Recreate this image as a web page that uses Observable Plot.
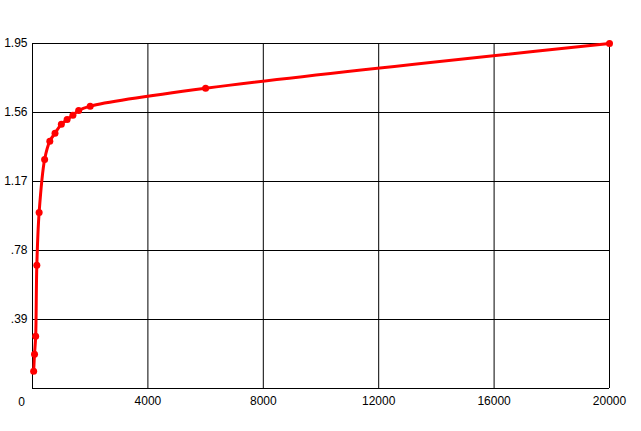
<!DOCTYPE html>
<html><head><meta charset="utf-8">
<script src="https://cdn.jsdelivr.net/npm/d3@7"></script>
<script src="https://cdn.jsdelivr.net/npm/@observablehq/plot@0.6"></script>
<style>body{margin:0;background:#fff;} svg{display:block;}</style>
</head><body><div id="chart"></div>
<script>
const xValues = [40, 70, 110, 150, 230, 420, 600, 780, 1000, 1200, 1400, 1600, 2000, 6000, 20000];
const yValues = [0.098, 0.194, 0.296, 0.697, 0.995, 1.294, 1.398, 1.443, 1.494, 1.520, 1.545, 1.571, 1.596, 1.697, 1.95];
const xTicks = [0, 4000, 8000, 12000, 16000, 20000];
const yTicks = [0.39, 0.78, 1.17, 1.56, 1.95];
const yTickLabels = [".39", ".78", "1.17", "1.56", "1.95"];
const originLabel = "0";

const data = xValues.map((x, i) => ({x, y: yValues[i]}));

const chart = Plot.plot({
  width: 641, height: 431,
  marginLeft: 32, marginRight: 32, marginTop: 43, marginBottom: 43,
  style: {fontFamily: "Liberation Sans, Arial, sans-serif", fontSize: "12px", background: "#fff", color: "#000"},
  x: {domain: [0, 20000]},
  y: {domain: [0, 1.95]},
  marks: [
    Plot.gridX(xTicks.slice(1), {stroke: "#000", strokeOpacity: 1, strokeWidth: 1}),
    Plot.gridY(yTicks, {stroke: "#000", strokeOpacity: 1, strokeWidth: 1}),
    Plot.ruleX([0], {stroke: "#000"}),
    Plot.ruleY([0], {stroke: "#000"}),
    Plot.axisX(xTicks.slice(1), {tickSize: 0, tickPadding: 8, fontSize: 12, label: null, tickFormat: d => String(d)}),
    Plot.axisY(yTicks, {tickSize: 0, tickPadding: 5, fontSize: 12, label: null, tickFormat: (d, i) => yTickLabels[i]}),
    Plot.text([originLabel], {x: 0, y: 0, text: d => d, dx: -11, dy: 14, fontSize: 12, fill: "#000"}),
    Plot.line(data, {x: "x", y: "y", stroke: "#ff0000", strokeWidth: 3, curve: "catmull-rom"}),
    Plot.dot(data, {x: "x", y: "y", r: 3.5, fill: "#ff0000", stroke: "none"})
  ]
});
document.getElementById("chart").appendChild(chart);
</script>
</body></html>
